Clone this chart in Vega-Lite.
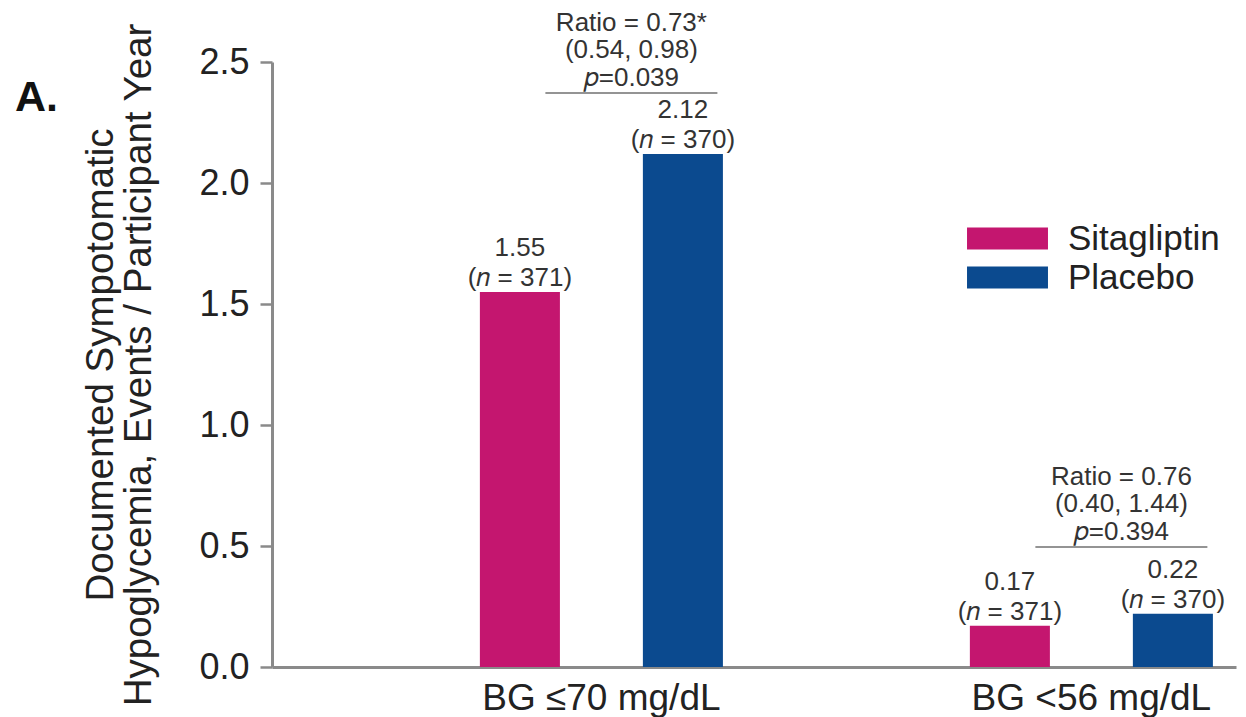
{
  "$schema": "https://vega.github.io/schema/vega-lite/v6.json",
  "width": 964,
  "height": 605,
  "autosize": {"type": "none"},
  "padding": {"left": 272, "top": 62, "right": 10, "bottom": 50},
  "background": "white",
  "title": {
    "text": "A.",
    "orient": "top",
    "anchor": "start",
    "frame": "group",
    "align": "left",
    "baseline": "alphabetic",
    "fontSize": 43,
    "fontWeight": "bold",
    "color": "#111",
    "dx": -257,
    "dy": 148
  },
  "config": {
    "font": "Liberation Sans",
    "view": {"stroke": null},
    "axis": {"grid": false, "domainColor": "#8a8a8a", "domainWidth": 3, "tickColor": "#8a8a8a", "tickWidth": 2.5, "labelColor": "#222", "titleColor": "#222"}
  },
  "datasets": {
    "bars": [
      {"group": "BG ≤70 mg/dL", "treatment": "Sitagliptin", "rate": 1.55, "label": ["1.55", "(𝑛 = 371)"]},
      {"group": "BG ≤70 mg/dL", "treatment": "Placebo", "rate": 2.12, "label": ["2.12", "(𝑛 = 370)"]},
      {"group": "BG <56 mg/dL", "treatment": "Sitagliptin", "rate": 0.17, "label": ["0.17", "(𝑛 = 371)"]},
      {"group": "BG <56 mg/dL", "treatment": "Placebo", "rate": 0.22, "label": ["0.22", "(𝑛 = 370)"]}
    ],
    "ratios": [
      {"group": "BG ≤70 mg/dL", "bracket": 2.372, "label": ["Ratio = 0.73*", "(0.54, 0.98)", "𝑝=0.039"]},
      {"group": "BG <56 mg/dL", "bracket": 0.496, "label": ["Ratio = 0.76", "(0.40, 1.44)", "𝑝=0.394"]}
    ]
  },
  "layer": [
    {
      "data": {"name": "bars"},
      "mark": {"type": "bar"},
      "encoding": {
        "x": {
          "field": "group", "type": "nominal",
          "sort": ["BG ≤70 mg/dL", "BG <56 mg/dL"],
          "scale": {"paddingInner": 0.504, "paddingOuter": 0.2357, "align": 0.9},
          "axis": {"title": null, "labelAngle": 0, "ticks": false, "tickSize": 0, "labelPadding": 13, "labelFontSize": 37, "labelLimit": 0, "labelColor": "#222"}
        },
        "xOffset": {
          "field": "treatment", "type": "nominal",
          "sort": ["Sitagliptin", "Placebo"],
          "scale": {"paddingInner": 0.509, "paddingOuter": 0}
        },
        "y": {
          "field": "rate", "type": "quantitative",
          "scale": {"domain": [0, 2.5], "nice": false},
          "axis": {
            "values": [0, 0.5, 1, 1.5, 2, 2.5],
            "format": ".1f",
            "tickSize": 12,
            "labelPadding": 11,
            "labelFontSize": 36,
            "title": ["Documented Sympotomatic", "Hypoglycemia, Events / Participant Year"],
            "titleFontSize": 38.5,
            "titleFontWeight": "normal",
            "titleLineHeight": 38,
            "titlePadding": 40
          }
        },
        "color": {
          "field": "treatment", "type": "nominal",
          "sort": ["Sitagliptin", "Placebo"],
          "scale": {"domain": ["Sitagliptin", "Placebo"], "range": ["#C4166F", "#0B4A8F"]},
          "legend": {
            "title": null,
            "orient": "none",
            "legendX": 718,
            "legendY": 159,
            "padding": 0,
            "symbolType": "M-3.68,-1H3.68V1H-3.68Z",
            "symbolSize": 484,
            "symbolStrokeWidth": 0,
            "labelFontSize": 35,
            "labelColor": "#222",
            "labelOffset": 43,
            "rowPadding": 3
          }
        }
      }
    },
    {
      "data": {"name": "bars"},
      "mark": {"type": "text", "baseline": "bottom", "align": "center", "dy": -31, "fontSize": 26, "lineHeight": 30, "color": "#333"},
      "encoding": {
        "x": {"field": "group", "type": "nominal", "sort": ["BG ≤70 mg/dL", "BG <56 mg/dL"]},
        "xOffset": {"field": "treatment", "type": "nominal", "sort": ["Sitagliptin", "Placebo"]},
        "y": {"field": "rate", "type": "quantitative"},
        "text": {"field": "label"}
      }
    },
    {
      "data": {"name": "ratios"},
      "mark": {"type": "tick", "orient": "horizontal", "size": 172, "thickness": 1.5, "xOffset": 30, "color": "#333"},
      "encoding": {
        "x": {"field": "group", "type": "nominal", "sort": ["BG ≤70 mg/dL", "BG <56 mg/dL"]},
        "y": {"field": "bracket", "type": "quantitative"}
      }
    },
    {
      "data": {"name": "ratios"},
      "mark": {"type": "text", "baseline": "bottom", "align": "center", "dx": 30, "dy": -57, "fontSize": 26, "lineHeight": 27.5, "color": "#333"},
      "encoding": {
        "x": {"field": "group", "type": "nominal", "sort": ["BG ≤70 mg/dL", "BG <56 mg/dL"]},
        "y": {"field": "bracket", "type": "quantitative"},
        "text": {"field": "label"}
      }
    }
  ]
}
